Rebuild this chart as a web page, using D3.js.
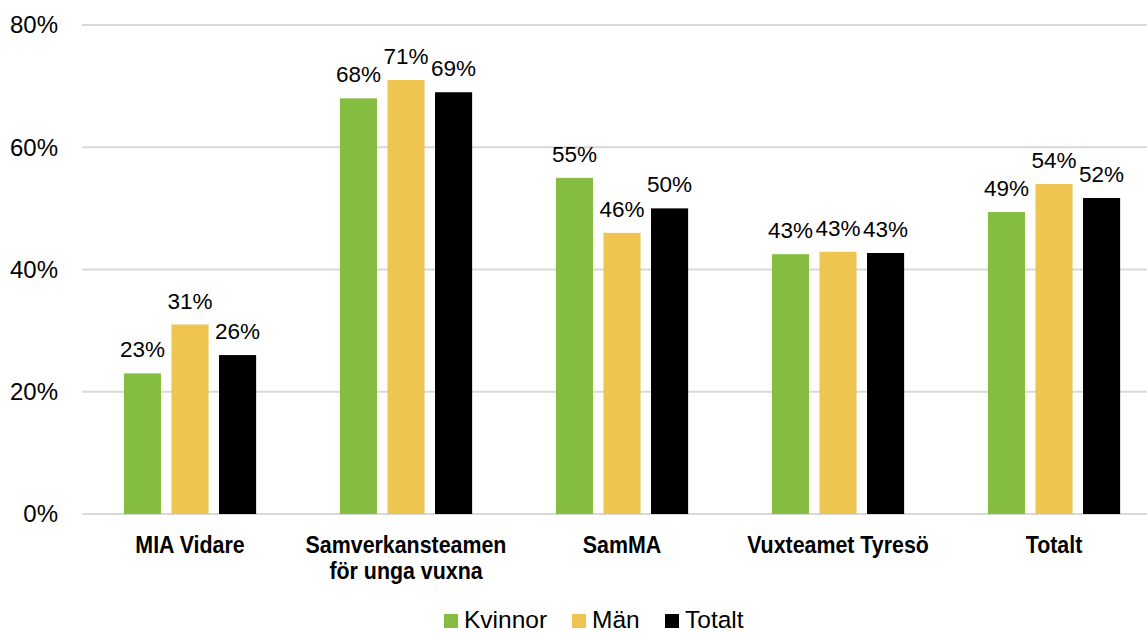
<html>
<head>
<meta charset="utf-8">
<script src="https://d3js.org/d3.v7.min.js"></script>
<style>
  body { margin: 0; background: #fff; overflow: hidden; }
  text { font-family: "Liberation Sans", Arial, sans-serif; fill: #000; }
  .cat text { font-weight: bold; font-size: 23.5px; }
</style>
</head>
<body>
<script>
var categories = [["MIA Vidare"], ["Samverkansteamen", "för unga vuxna"], ["SamMA"], ["Vuxteamet Tyresö"], ["Totalt"]];
var seriesNames = ["Kvinnor", "Män", "Totalt"];
var kvinnor = [23, 68, 55, 42.5, 49.4];
var man = [31, 71, 46, 42.9, 54];
var totalt = [26, 69, 50, 42.7, 51.7];
var colors = ["#84bd3f", "#eec551", "#000000"];
var yTicks = [0, 20, 40, 60, 80];

var width = 1147, height = 634;
var plotLeft = 82, plotRight = 1162, plotTop = 25, plotBottom = 514;

var svg = d3.select("body").append("svg")
  .attr("width", width)
  .attr("height", height);

var y = d3.scaleLinear().domain([0, 80]).range([plotBottom, plotTop]);
var x0 = d3.scaleBand().domain(d3.range(categories.length)).range([plotLeft, plotRight]);
var x1 = d3.scaleBand().domain(d3.range(3)).range([0, x0.bandwidth()]).paddingInner(0.22).paddingOuter(0.88);

// gridlines + tick labels
svg.append("g").selectAll("line").data(yTicks).enter().append("line")
  .attr("x1", plotLeft).attr("x2", width)
  .attr("y1", function(d){ return y(d); }).attr("y2", function(d){ return y(d); })
  .attr("stroke", "#d9d9d9").attr("stroke-width", 2);

svg.append("g").selectAll("text").data(yTicks).enter().append("text")
  .attr("x", 58).attr("y", function(d){ return y(d); })
  .attr("dy", "0.35em").attr("text-anchor", "end")
  .style("font-size", "24px")
  .text(function(d){ return d + "%"; });

var series = [kvinnor, man, totalt];
series.forEach(function(vals, s) {
  var g = svg.append("g");
  g.selectAll("rect").data(vals).enter().append("rect")
    .attr("x", function(d, i){ return x0(i) + x1(s); })
    .attr("width", x1.bandwidth())
    .attr("y", function(d){ return y(d); })
    .attr("height", function(d){ return y(0) - y(d); })
    .attr("fill", colors[s]);
  g.selectAll("text").data(vals).enter().append("text")
    .attr("x", function(d, i){ return x0(i) + x1(s) + x1.bandwidth() / 2; })
    .attr("y", function(d){ return y(d) - 16; })
    .attr("text-anchor", "middle")
    .style("font-size", "22.5px")
    .text(function(d){ return Math.round(d) + "%"; });
});

// category labels (squeezed to look like a condensed face)
var cat = svg.append("g").attr("class", "cat");
categories.forEach(function(lines, i) {
  lines.forEach(function(l, j) {
    cat.append("text")
      .attr("transform", "translate(" + (x0(i) + x0.bandwidth() / 2) + "," + (553 + j * 26) + ") scale(0.91,1)")
      .attr("text-anchor", "middle")
      .text(l);
  });
});

// legend
var legendX = [444, 572, 665];
var legend = svg.append("g");
seriesNames.forEach(function(n, i) {
  legend.append("rect").attr("x", legendX[i]).attr("y", 614).attr("width", 14).attr("height", 14).attr("fill", colors[i]);
  legend.append("text").attr("x", legendX[i] + 20).attr("y", 628).style("font-size", "24.5px").text(n);
});
</script>
</body>
</html>
